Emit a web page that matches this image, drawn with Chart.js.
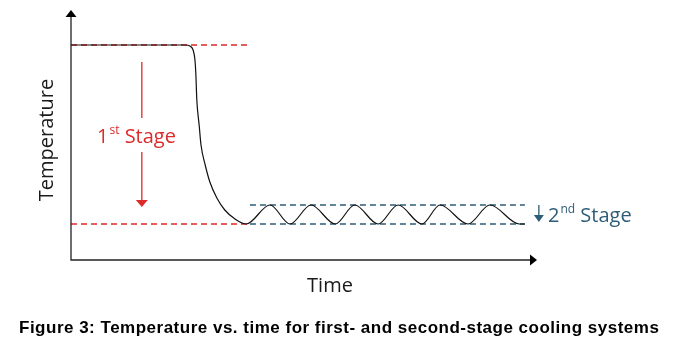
<!DOCTYPE html>
<html>
<head>
<meta charset="utf-8">
<script src="https://cdn.jsdelivr.net/npm/chart.js@4.4.1/dist/chart.umd.min.js"></script>
<style>
  html, body { margin: 0; padding: 0; background: #fff; }
  #wrap { position: relative; width: 673px; height: 347px; }
</style>
</head>
<body>
<div id="wrap"><canvas id="chart" width="673" height="347"></canvas></div>
<script>
// Time (arbitrary units, 0..100) and temperature (0..100)
const curveTime = [0, 24.5, 25.5, 26.2, 26.6, 26.8, 27.0, 27.5, 27.9, 28.8, 29.8, 31.3, 33.0, 35.2, 37.6,
  42.7, 47.0, 51.5, 56.7, 60.9, 65.9, 70.2, 75.3, 79.2, 85.2, 89.9, 96.2, 97.4];
const curveTemp = [86, 86, 85.6, 84, 80, 74, 64, 54, 46, 38, 31.2, 24.8, 20, 16.4, 14.4,
  22, 14.4, 22, 14.4, 22, 14.4, 22, 14.4, 22, 14.4, 22, 14.4, 14.4];

// reference levels
const startTemp = 86;
const floorTemp = 14.4;
const bandTop = 22;
const firstStageSpan = [0, 38];
const secondStageSpan = [38.4, 97.4];

// annotation arrows: [time, fromTemp, toTemp]
const firstStageArrow = [15.2, 79.2, 21.2];
const secondStageArrow = [100.4, 22, 15.2];

const axisLabels = { x: 'Time', y: 'Temperature' };
const caption = 'Figure 3: Temperature vs. time for first- and second-stage cooling systems';

const RED = '#dd2a2a';
const TEAL = '#2e5d77';
const BODY_FONT = '"Open Sans", "Noto Sans", sans-serif';

const curve = curveTime.map((t, i) => ({ x: t, y: curveTemp[i] }));
const hLine = (span, y) => span.map((x) => ({ x, y }));

function dashed(data, color) {
  return {
    data,
    borderColor: color,
    borderWidth: 1.3,
    borderDash: [6, 4],
    pointRadius: 0,
    tension: 0,
  };
}

function arrowHead(ctx, x, y, dir, w, h, color) {
  // dir: 'up' | 'down' | 'right'
  ctx.fillStyle = color;
  ctx.beginPath();
  if (dir === 'up') {
    ctx.moveTo(x, y); ctx.lineTo(x - w / 2, y + h); ctx.lineTo(x + w / 2, y + h);
  } else if (dir === 'down') {
    ctx.moveTo(x, y); ctx.lineTo(x - w / 2, y - h); ctx.lineTo(x + w / 2, y - h);
  } else {
    ctx.moveTo(x, y); ctx.lineTo(x - h, y - w / 2); ctx.lineTo(x - h, y + w / 2);
  }
  ctx.closePath();
  ctx.fill();
}

function stageLabel(ctx, x, y, num, sup, color) {
  ctx.save();
  ctx.fillStyle = color;
  ctx.textBaseline = 'alphabetic';
  ctx.textAlign = 'left';
  ctx.font = '20px ' + BODY_FONT;
  const nw = ctx.measureText(num).width;
  ctx.font = '12px ' + BODY_FONT;
  const sw = ctx.measureText(sup).width;
  ctx.font = '20px ' + BODY_FONT;
  ctx.fillText(num, x, y);
  ctx.font = '12px ' + BODY_FONT;
  ctx.fillText(sup, x + nw + 1, y - 9);
  ctx.font = '20px ' + BODY_FONT;
  ctx.fillText(' Stage', x + nw + sw + 1, y);
  ctx.restore();
}

const annotations = {
  id: 'annotations',
  afterDraw(chart) {
    const { ctx, scales: { x, y } } = chart;
    const x0 = x.getPixelForValue(0);
    const y0 = y.getPixelForValue(0);
    const xEnd = x.getPixelForValue(100);
    const yTop = y.getPixelForValue(100);

    ctx.save();
    // axes
    ctx.strokeStyle = '#222';
    ctx.lineWidth = 1.3;
    ctx.beginPath();
    ctx.moveTo(x0, yTop + 5);
    ctx.lineTo(x0, y0);
    ctx.lineTo(xEnd - 5, y0);
    ctx.stroke();
    arrowHead(ctx, x0, yTop, 'up', 11, 7, '#000');
    arrowHead(ctx, xEnd, y0, 'right', 11, 7, '#000');

    // first stage arrow, broken by the label
    const ax = x.getPixelForValue(firstStageArrow[0]);
    const ay1 = y.getPixelForValue(firstStageArrow[1]);
    const ay2 = y.getPixelForValue(firstStageArrow[2]);
    ctx.strokeStyle = RED;
    ctx.lineWidth = 1.3;
    ctx.beginPath();
    ctx.moveTo(ax, ay1);
    ctx.lineTo(ax, 118);
    ctx.moveTo(ax, 152);
    ctx.lineTo(ax, ay2 - 5);
    ctx.stroke();
    arrowHead(ctx, ax, ay2, 'down', 12, 7, RED);
    stageLabel(ctx, 97, 143, '1', 'st', RED);

    // second stage arrow
    const bx = x.getPixelForValue(secondStageArrow[0]);
    const by1 = y.getPixelForValue(secondStageArrow[1]);
    const by2 = y.getPixelForValue(secondStageArrow[2]);
    ctx.strokeStyle = TEAL;
    ctx.lineWidth = 1.3;
    ctx.beginPath();
    ctx.moveTo(bx, by1);
    ctx.lineTo(bx, by2 - 5);
    ctx.stroke();
    arrowHead(ctx, bx, by2, 'down', 10, 7, TEAL);
    stageLabel(ctx, 548, 222, '2', 'nd', TEAL);

    // axis titles
    ctx.fillStyle = '#1a1a1a';
    ctx.font = '20px ' + BODY_FONT;
    ctx.textAlign = 'center';
    ctx.textBaseline = 'alphabetic';
    ctx.fillText(axisLabels.x, 330, 292);
    ctx.save();
    ctx.translate(53, 140);
    ctx.rotate(-Math.PI / 2);
    ctx.fillText(axisLabels.y, 0, 0);
    ctx.restore();

    // caption
    ctx.fillStyle = '#000';
    ctx.font = 'bold 17px "Liberation Sans", Arial, sans-serif';
    ctx.letterSpacing = '0.5px';
    ctx.textAlign = 'left';
    ctx.fillText(caption, 19, 333);
    ctx.restore();
  },
};

new Chart(document.getElementById('chart'), {
  type: 'line',
  data: {
    datasets: [
      {
        data: curve,
        borderColor: '#111',
        borderWidth: 1.2,
        pointRadius: 0,
        cubicInterpolationMode: 'monotone',
      },
      dashed(hLine(firstStageSpan, startTemp), RED),
      dashed(hLine(firstStageSpan, floorTemp), RED),
      dashed(hLine(secondStageSpan, bandTop), TEAL),
      dashed(hLine(secondStageSpan, floorTemp), TEAL),
    ],
  },
  options: {
    responsive: false,
    animation: false,
    layout: { padding: { left: 71, right: 136, top: 10, bottom: 87 } },
    plugins: { legend: { display: false }, tooltip: { enabled: false } },
    scales: {
      x: { type: 'linear', min: 0, max: 100, display: false },
      y: { type: 'linear', min: 0, max: 100, display: false },
    },
  },
  plugins: [annotations],
});
</script>
</body>
</html>
